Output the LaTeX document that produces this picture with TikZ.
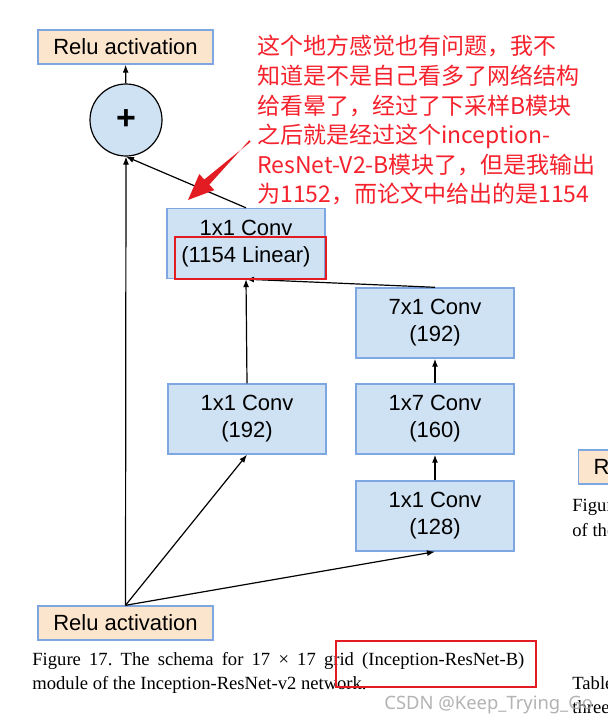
\documentclass[tikz,border=0pt]{standalone}
\usepackage{fontspec}
\setmainfont{Liberation Sans}
\newfontfamily\capfont{Liberation Serif}
\newfontfamily\cjk{Noto Sans CJK SC}
\newfontfamily\wmfont{Noto Sans}
\usepackage{tikz}
\usetikzlibrary{positioning, arrows.meta, calc}
\usepackage{xcolor}
\definecolor{convBlue}{HTML}{CFE2F3}
\definecolor{edgeBlue}{HTML}{7EA6E0}
\definecolor{reluPeach}{HTML}{FCE5CD}
\definecolor{noteRed}{HTML}{F5222D}
\definecolor{boxRed}{HTML}{E31B23}
\definecolor{wmGray}{HTML}{A6A6A6}
\frenchspacing

\begin{document}
\begin{tikzpicture}[x=0.5pt, y=-0.5pt,
        conv/.style={rectangle, draw=edgeBlue, fill=convBlue, line width=0.7pt, minimum width=79pt, minimum height=35pt, inner sep=0pt, align=center, font=\fontsize{11}{13.5}\selectfont},
        relu/.style={rectangle, draw=edgeBlue, fill=reluPeach, line width=0.7pt, minimum width=87.5pt, minimum height=17pt, inner sep=0pt, font=\fontsize{11}{13.5}\selectfont},
        sum/.style={circle, draw=black, fill=convBlue, line width=0.6pt, minimum size=36pt, inner sep=0pt, font=\fontsize{17}{17}\selectfont\bfseries},
        arrow/.style={-{Latex[length=4pt,width=3pt]}, line width=0.6pt},
        hilite/.style={rectangle, draw=boxRed, line width=1pt, inner sep=0pt},
        note/.style={anchor=north west, align=left, inner sep=0pt, text=noteRed, font=\cjk\fontsize{11.5}{14.8}\selectfont},
        paper/.style={anchor=west, inner sep=0pt, font=\capfont\fontsize{9.3}{12}\selectfont}
      ]
      \useasboundingbox (0,0) rectangle (608,724);
      \clip (0,0) rectangle (608,724);
      \fill[white] (0,0) rectangle (608,724);
      % block
      \node[relu] (out) at (125.5,47) {Relu activation};
      \node[sum] (plus) at (126,120) {+};
      \node[conv] (lin) at (246,243.5) {1x1 Conv\\(1154 Linear)};
      \node[conv] (c7) at (435,323) {7x1 Conv\\(192)};
      \node[conv] (c1) at (247,419) {1x1 Conv\\(192)};
      \node[conv] (c3) at (435,419) {1x7 Conv\\(160)};
      \node[conv] (c2) at (435,516) {1x1 Conv\\(128)};
      \node[relu] (in) at (125.5,623) {Relu activation};
      \draw[arrow] (plus) -- (out);
      \draw[arrow] (in.north) -- (plus.south);
      \draw[arrow] (lin.north) -- (plus.south);
      \foreach \s/\t in {c1/lin, c7/lin, c3/c7, c2/c3} {
         \draw[arrow] (\s.north) -- (\t.south);
      }
      \draw[arrow] (in.north) -- (c1.south);
      \draw[arrow] (in.north) -- (c2.south);
      % caption and the page around it
      \node[paper, anchor=north west, align=left] (cap) at (32,652) {\makebox[246pt][s]{Figure 17. The schema for 17 × 17 grid (Inception-ResNet-B)}\\module of the Inception-ResNet-v2 network.};
      \node[relu, anchor=west, minimum width=0pt, inner xsep=7.5pt, text width=30pt, align=left] (rnext) at (578,467) {R};
      \node[paper] (fig2) at (572,507) {Figur};
      \node[paper] (fig2b) at (572,530) {of the};
      \node[paper] (tab) at (572,683) {Table};
      \node[paper] (tabb) at (572,707) {three};
      % annotations
      \node[hilite, minimum width=75.5pt, minimum height=21pt] (hl1) at (250.5,258) {};
      \node[hilite, minimum width=100pt, minimum height=23pt] (hl2) at (436,664) {};
      \node[note] (note) at (257,35) {这个地方感觉也有问题，我不\\知道是不是自己看多了网络结构\\给看晕了，经过了下采样B模块\\之后就是经过这个inception-\\ResNet-V2-B模块了，但是我输出\\为1152，而论文中给出的是1154};
      \coordinate (redtail) at (250,141);
      \coordinate (redtip) at (188,200);
      \coordinate (hb) at ($(redtip)!13pt!(redtail)$);
      \fill[boxRed] ($(redtail)!0.5pt!90:(redtip)$) -- ($(hb)!1.8pt!-90:(redtip)$) -- ($(hb)!5.5pt!-90:(redtip)$) -- (redtip)
         -- ($(hb)!5.5pt!90:(redtip)$) -- ($(hb)!1.8pt!90:(redtip)$) -- ($(redtail)!0.5pt!-90:(redtip)$) -- cycle;
      \node[anchor=west, inner sep=0pt, text=wmGray, opacity=0.85, font=\wmfont\fontsize{9.2}{10}\selectfont] (wm) at (384,705) {CSDN @Keep\_Trying\_Go};
    \end{tikzpicture}
\end{document}
